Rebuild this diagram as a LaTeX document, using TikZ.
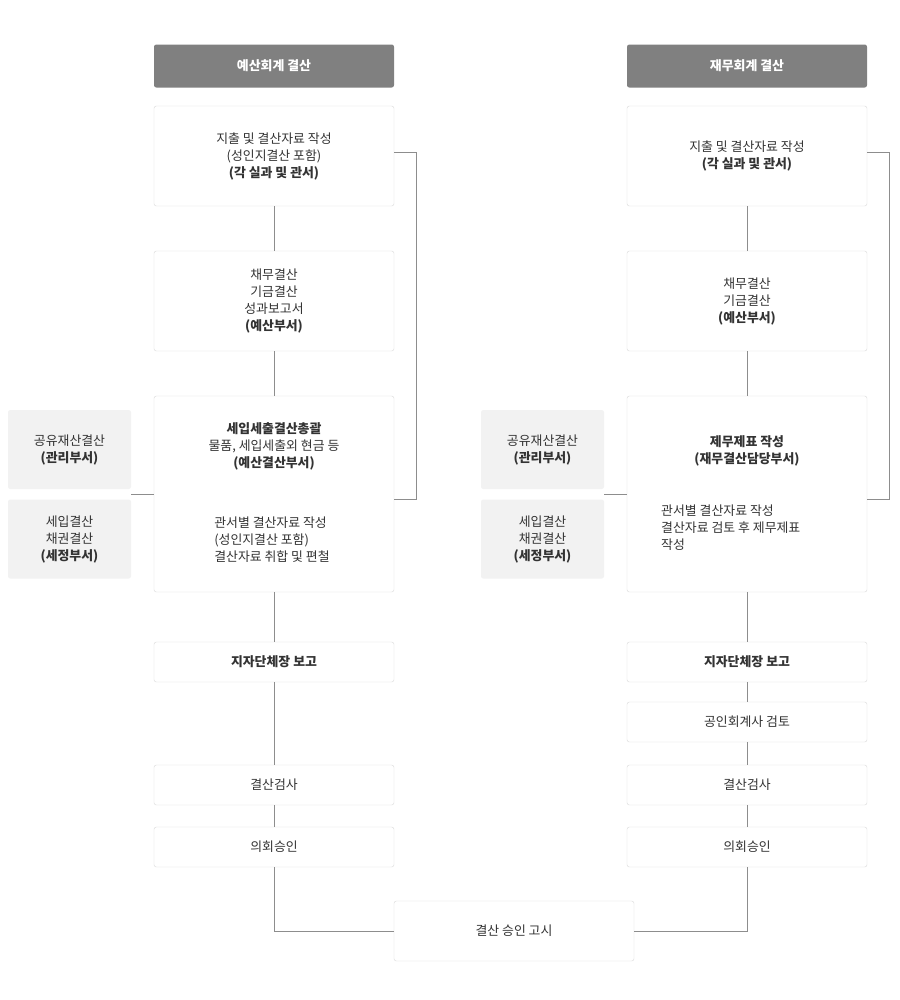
\documentclass[tikz,border=0pt]{standalone}
\usepackage{fontspec}
\setmainfont{Noto Sans CJK KR}
\definecolor{headgray}{HTML}{808080}
\definecolor{linegray}{HTML}{DDDDDD}
\definecolor{sidegray}{HTML}{F2F2F2}
\definecolor{textgray}{HTML}{333333}
\tikzset{
  head/.style={fill=headgray,text=white,font=\bfseries\fontsize{11}{14}\selectfont,rounded corners=2pt,minimum width=240*0.03cm,minimum height=43*0.03cm,inner sep=0pt},
  stepbox/.style={draw=linegray,fill=white,text=textgray,rounded corners=2pt,align=center,font=\fontsize{11}{14.5}\selectfont,minimum width=240*0.03cm,inner sep=0pt},
  sidebox/.style={fill=sidegray,text=textgray,rounded corners=2pt,align=center,font=\fontsize{11}{14.5}\selectfont,minimum width=123*0.03cm,minimum height=79*0.03cm,inner sep=0pt},
  txt/.style={text=textgray,font=\fontsize{11}{14.5}\selectfont,inner sep=0pt},
  link/.style={draw=headgray!90,line width=0.6pt}
}
\begin{document}
\begin{tikzpicture}[x=0.03cm,y=-0.03cm]
  \useasboundingbox[fill=white] (0,0) rectangle (900,1000);
  % left column
  \node[head] (lh) at (274,66) {예산회계 결산};
  \node[stepbox,minimum height=100*0.03cm] (l1) at (274,156) {지출 및 결산자료 작성\\(성인지결산 포함)\\\textbf{(각 실과 및 관서)}};
  \node[stepbox,minimum height=100*0.03cm] (l2) at (274,301) {채무결산\\기금결산\\성과보고서\\\textbf{(예산부서)}};
  \node[stepbox,minimum height=196*0.03cm] (l3) at (274,494) {};
  \node[txt,align=center] (l3a) at (274,446) {\textbf{세입세출결산총괄}\\물품, 세입세출외 현금 등\\\textbf{(예산결산부서)}};
  \node[txt,align=left] (l3b) at (272,540) {관서별 결산자료 작성\\(성인지결산 포함)\\결산자료 취합 및 편철};
  \node[stepbox,minimum height=40*0.03cm,font=\bfseries\fontsize{11}{14}\selectfont] (l4) at (274,662) {지자단체장 보고};
  \node[stepbox,minimum height=40*0.03cm] (l5) at (274,785) {결산검사};
  \node[stepbox,minimum height=40*0.03cm] (l6) at (274,847) {의회승인};
  \node[sidebox] (ls1) at (69.5,449.5) {공유재산결산\\\textbf{(관리부서)}};
  \node[sidebox] (ls2) at (69.5,539) {세입결산\\채권결산\\\textbf{(세정부서)}};
  % right column
  \node[head] (rh) at (747,66) {재무회계 결산};
  \node[stepbox,minimum height=100*0.03cm] (r1) at (747,156) {지출 및 결산자료 작성\\\textbf{(각 실과 및 관서)}};
  \node[stepbox,minimum height=100*0.03cm] (r2) at (747,301) {채무결산\\기금결산\\\textbf{(예산부서)}};
  \node[stepbox,minimum height=196*0.03cm] (r3) at (747,494) {};
  \node[txt,align=center,font=\bfseries\fontsize{11}{14.5}\selectfont] (r3a) at (747,451) {제무제표 작성\\(재무결산담당부서)};
  \node[txt,align=left,anchor=west] (r3b) at (661,528) {관서별 결산자료 작성\\결산자료 검토 후 제무제표\\작성};
  \node[stepbox,minimum height=40*0.03cm,font=\bfseries\fontsize{11}{14}\selectfont] (r4) at (747,662) {지자단체장 보고};
  \node[stepbox,minimum height=40*0.03cm] (r5) at (747,722) {공인회계사 검토};
  \node[stepbox,minimum height=40*0.03cm] (r6) at (747,785) {결산검사};
  \node[stepbox,minimum height=40*0.03cm] (r7) at (747,847) {의회승인};
  \node[sidebox] (rs1) at (542.5,449.5) {공유재산결산\\\textbf{(관리부서)}};
  \node[sidebox] (rs2) at (542.5,539) {세입결산\\채권결산\\\textbf{(세정부서)}};
  % bottom
  \node[stepbox,minimum height=60*0.03cm] (fin) at (514,931) {결산 승인 고시};
  % connectors
  \begin{scope}[on background layer/.style={}]
  \draw[link] (l1) -- (l2); \draw[link] (l2) -- (l3); \draw[link] (l3) -- (l4);
  \draw[link] (l4) -- (l5); \draw[link] (l5) -- (l6);
  \draw[link] (r1) -- (r2); \draw[link] (r2) -- (r3); \draw[link] (r3) -- (r4);
  \draw[link] (r4) -- (r5); \draw[link] (r5) -- (r6); \draw[link] (r6) -- (r7);
  \draw[link] (131,494) -- (l3.west);
  \draw[link] (604,494) -- (r3.west);
  \draw[link] (l1.east |- 0,152) -- (416,152) -- (416,499) -- (l3.east |- 0,499);
  \draw[link] (r1.east |- 0,152) -- (889,152) -- (889,499) -- (r3.east |- 0,499);
  \draw[link] (l6.south) |- (fin.west);
  \draw[link] (r7.south) |- (fin.east);
  \end{scope}
\end{tikzpicture}
\end{document}
